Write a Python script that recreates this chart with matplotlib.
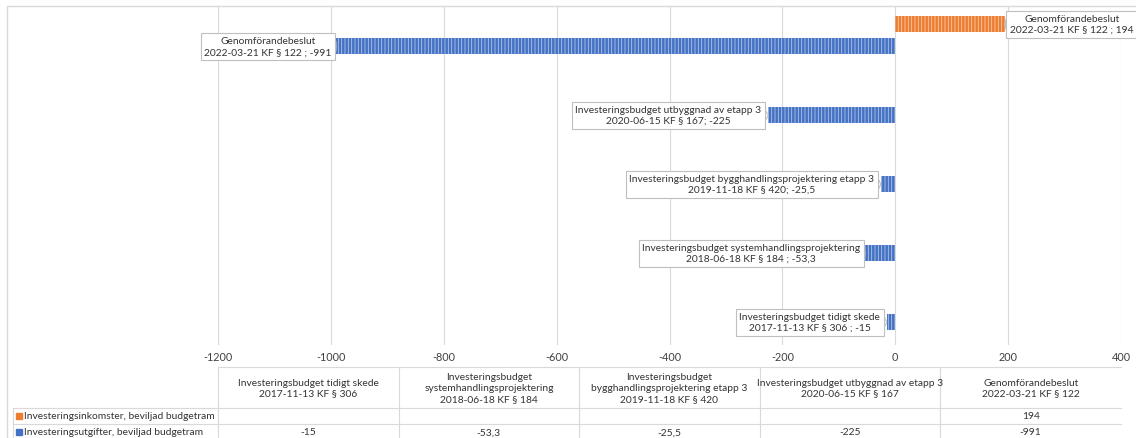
import matplotlib.pyplot as plt
import numpy as np
from matplotlib.lines import Line2D

# data: categories from bottom (first) to top (last), like the Excel chart
categories = [
    'Investeringsbudget tidigt skede\n2017-11-13 KF § 306',
    'Investeringsbudget\nsystemhandlingsprojektering\n2018-06-18 KF § 184',
    'Investeringsbudget\nbygghandlingsprojektering etapp 3\n2019-11-18 KF § 420',
    'Investeringsbudget utbyggnad av etapp 3\n2020-06-15 KF § 167',
    'Genomförandebeslut\n2022-03-21 KF § 122',
]
series_names = ['Investeringsinkomster, beviljad budgetram',
                'Investeringsutgifter, beviljad budgetram']
inkomster = [np.nan, np.nan, np.nan, np.nan, 194]
utgifter = [-15, -53.3, -25.5, -225, -991]

callout_ink = [None, None, None, None, 'Genomförandebeslut\n2022-03-21 KF § 122 ; 194']
callout_utg = [
    'Investeringsbudget tidigt skede\n2017-11-13 KF § 306 ; -15',
    'Investeringsbudget systemhandlingsprojektering\n2018-06-18 KF § 184 ; -53,3',
    'Investeringsbudget bygghandlingsprojektering etapp 3\n2019-11-18 KF § 420; -25,5',
    'Investeringsbudget utbyggnad av etapp 3\n2020-06-15 KF § 167; -225',
    'Genomförandebeslut\n2022-03-21 KF § 122 ; -991',
]
# horizontal offset of each callout from its bar end (pixels)
dx_ink = [0, 0, 0, 0, 67]
dx_utg = [-77, -114, -129, -100, -68]

colors = ['#ED7D31', '#4472C4']
stripe = ['#F8CBAD', '#B4C7E7']
txt = '#333333'
grid = '#d9d9d9'

plt.rcParams['font.family'] = ['Lato', 'DejaVu Sans']
plt.rcParams['hatch.linewidth'] = 0.6
plt.rcParams['axes.unicode_minus'] = False

W, H = 1136, 439
fig = plt.figure(figsize=(W / 100, H / 100), dpi=100)

# pixel overlay for border and data table
tab = fig.add_axes([0, 0, 1, 1], zorder=0)
tab.set_xlim(0, W)
tab.set_ylim(H, 0)
tab.axis('off')

ax = fig.add_axes([218 / W, 1 - 346 / H, (1121 - 218) / W, (346 - 8) / H], zorder=1)
ax.patch.set_alpha(0)

y = np.arange(len(categories))
ax.barh(y + 0.16, inkomster, height=0.23, color=colors[0],
        edgecolor=stripe[0], hatch='|||||', linewidth=0)
ax.barh(y - 0.16, utgifter, height=0.23, color=colors[1],
        edgecolor=stripe[1], hatch='|||||', linewidth=0)

def callout(label, x, yy, dx):
    ax.annotate(
        label, xy=(x, yy), xytext=(dx, 0), textcoords='offset pixels',
        ha='center', va='center', fontsize=7.4, color=txt, linespacing=1.25,
        bbox=dict(boxstyle='square,pad=0.35', fc='white', ec='#bfbfbf', lw=0.8),
        arrowprops=dict(arrowstyle='wedge,tail_width=1.0,shrink_factor=0.5',
                        fc='white', ec='#bfbfbf', lw=0.8, shrinkA=0, shrinkB=0),
        zorder=5,
    )

for i in range(len(categories)):
    if callout_ink[i] is not None:
        callout(callout_ink[i], inkomster[i], i + 0.16, dx_ink[i])
    callout(callout_utg[i], utgifter[i], i - 0.16, dx_utg[i])

ax.set_xlim(-1200, 400)
ax.set_ylim(-0.49, 4.41)
ax.set_xticks(np.arange(-1200, 401, 200))
ax.set_yticks([])
ax.tick_params(axis='x', length=0, pad=4, labelsize=7.8, labelcolor='#404040')
ax.grid(axis='x', color=grid, linewidth=0.8)
ax.set_axisbelow(True)
for s in ax.spines.values():
    s.set_visible(False)

# outer chart border
tab.add_line(Line2D([7, 7, W], [H, 7, 7], color=grid, lw=1.0))

# data table
x0, x1 = 218, 1121
colw = (x1 - x0) / len(categories)
rows = [368, 409, 425, 441]
lc = grid
tab.add_line(Line2D([x0, x1], [rows[0], rows[0]], color=lc, lw=0.8))
for r in rows[1:3]:
    tab.add_line(Line2D([13, x1], [r, r], color=lc, lw=0.8))
tab.add_line(Line2D([13, 13], [rows[1], H], color=lc, lw=0.8))
for i in range(len(categories)):
    xl = x0 + i * colw
    top = rows[0]
    tab.add_line(Line2D([xl, xl], [top, H], color=lc, lw=0.8))
    tab.text(xl + colw / 2, (rows[0] + rows[1]) / 2, categories[i], ha='center',
             va='center', fontsize=7.4, color=txt, linespacing=1.25)
    for k, vals in enumerate([inkomster, utgifter]):
        v = vals[i]
        if not np.isnan(v):
            s = f'{v:g}'.replace('.', ',')
            tab.text(xl + colw / 2, (rows[k + 1] + rows[k + 2]) / 2, s,
                     ha='center', va='center', fontsize=7.4, color=txt)

for k, name in enumerate(series_names):
    yc = (rows[k + 1] + rows[k + 2]) / 2
    tab.plot(19, yc, marker='s', markersize=4, color=colors[k], linestyle='none')
    tab.text(24, yc, name, ha='left', va='center', fontsize=7.4, color=txt)

fig.savefig('out.png', dpi=100)
